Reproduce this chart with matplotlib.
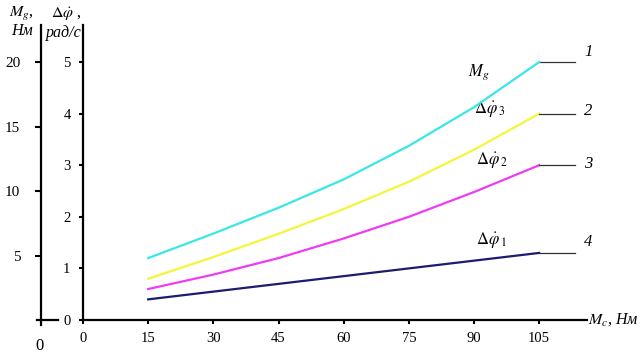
import matplotlib
matplotlib.use("Agg")
import matplotlib.pyplot as plt

plt.rcParams['font.family'] = ['Liberation Serif', 'DejaVu Serif']
plt.rcParams['mathtext.fontset'] = 'stix'

# data
mc = [15, 30, 45, 60, 75, 90, 105]
mg = [4.8, 6.7, 8.7, 10.9, 13.5, 16.5, 20.0]          # Нм, left scale
dphi3 = [0.8, 1.22, 1.67, 2.15, 2.68, 3.3, 4.0]       # рад/с
dphi2 = [0.6, 0.88, 1.2, 1.58, 2.0, 2.48, 3.0]
dphi1 = [0.4, 0.55, 0.7, 0.85, 1.0, 1.15, 1.3]
x_ticks = [0, 15, 30, 45, 60, 75, 90, 105]
dphi_ticks = [0, 1, 2, 3, 4, 5]
mg_ticks = [5, 10, 15, 20]

XMAX = 116
YMAX = 5.72

fig = plt.figure(figsize=(6.42, 3.53), dpi=100)
ax = fig.add_axes([0.1293, 0.0935, 0.785, 0.836])
ax2 = ax.twinx()

ax.set_xlim(0, XMAX)
ax.set_ylim(0, YMAX)
ax2.set_ylim(0, 4 * YMAX)

ax2.plot(mc, mg, color='#3ae6e6', lw=1.6)
ax.plot(mc, dphi3, color='#f5f53a', lw=1.6)
ax.plot(mc, dphi2, color='#f03cf0', lw=1.6)
ax.plot(mc, dphi1, color='#1c1c70', lw=1.6)

# main axes styling
for s in ['top', 'right']:
    ax.spines[s].set_visible(False)
ax.spines['left'].set_linewidth(1.6)
ax.spines['bottom'].set_linewidth(1.6)
ax.set_xticks(x_ticks)
ax.set_yticks(dphi_ticks)
ax.tick_params(axis='both', direction='out', length=3, width=1.5, labelsize=10.5)
ax.tick_params(axis='y', pad=6)
ax.tick_params(axis='x', pad=6)

# left M scale
for s in ['top', 'right', 'bottom']:
    ax2.spines[s].set_visible(False)
ax2.spines['left'].set_visible(True)
ax2.spines['left'].set_position(('axes', -0.083))
ax2.spines['left'].set_linewidth(1.6)
ax2.spines['left'].set_bounds(-0.4, 4 * YMAX)
ax2.yaxis.set_ticks_position('left')
ax2.set_yticks(mg_ticks)
ax2.tick_params(axis='y', direction='out', length=4, width=1.5, labelsize=11, pad=11)
ax.plot([-0.092, -0.049], [0, 0], transform=ax.transAxes, clip_on=False,
        color='black', lw=1.6)
fig.text(40 / 642, 1 - 346 / 353, '0', fontsize=12, ha='center', va='center')

# axis titles
fig.text(21 / 642, 1 - 14 / 353, r'$M_g$,', fontsize=11.5, ha='center', va='center')
fig.text(22 / 642, 1 - 31 / 353, 'Нм', fontsize=11.5, ha='center', va='center', style='italic')
fig.text(66 / 642, 1 - 14 / 353, r'$\Delta\dot{\varphi}$ ,', fontsize=11.5, ha='center', va='center')
fig.text(64 / 642, 1 - 33 / 353, 'рад/с', fontsize=11.5, ha='center', va='center', style='italic')
ax.text(XMAX + 0.3, 0, r'$M_c$, Нм', fontsize=11.5, ha='left', va='center',
        style='italic', clip_on=False)

# curve labels and leaders
ax2.text(91, 4 * 4.8, r'$M_g$', fontsize=12, ha='center', va='center')
ax.text(93.5, 4.08, r'$\Delta\dot{\varphi}_{\,3}$', fontsize=12, ha='center', va='center')
ax.text(94, 3.1, r'$\Delta\dot{\varphi}_{\,2}$', fontsize=12, ha='center', va='center')
ax.text(94, 1.55, r'$\Delta\dot{\varphi}_{\,1}$', fontsize=12, ha='center', va='center')

ends = [mg[-1] / 4, dphi3[-1], dphi2[-1], dphi1[-1]]
nums = ['1', '2', '3', '4']
offs = [0.2, 0.06, 0.03, 0.22]
for e, n, o in zip(ends, nums, offs):
    ax.plot([105, 113.3], [e, e], color='#333333', lw=0.9)
    ax.text(116.3, e + o, n, fontsize=12, style='italic', ha='center',
            va='center', clip_on=False)

fig.savefig('out.png', dpi=100)
